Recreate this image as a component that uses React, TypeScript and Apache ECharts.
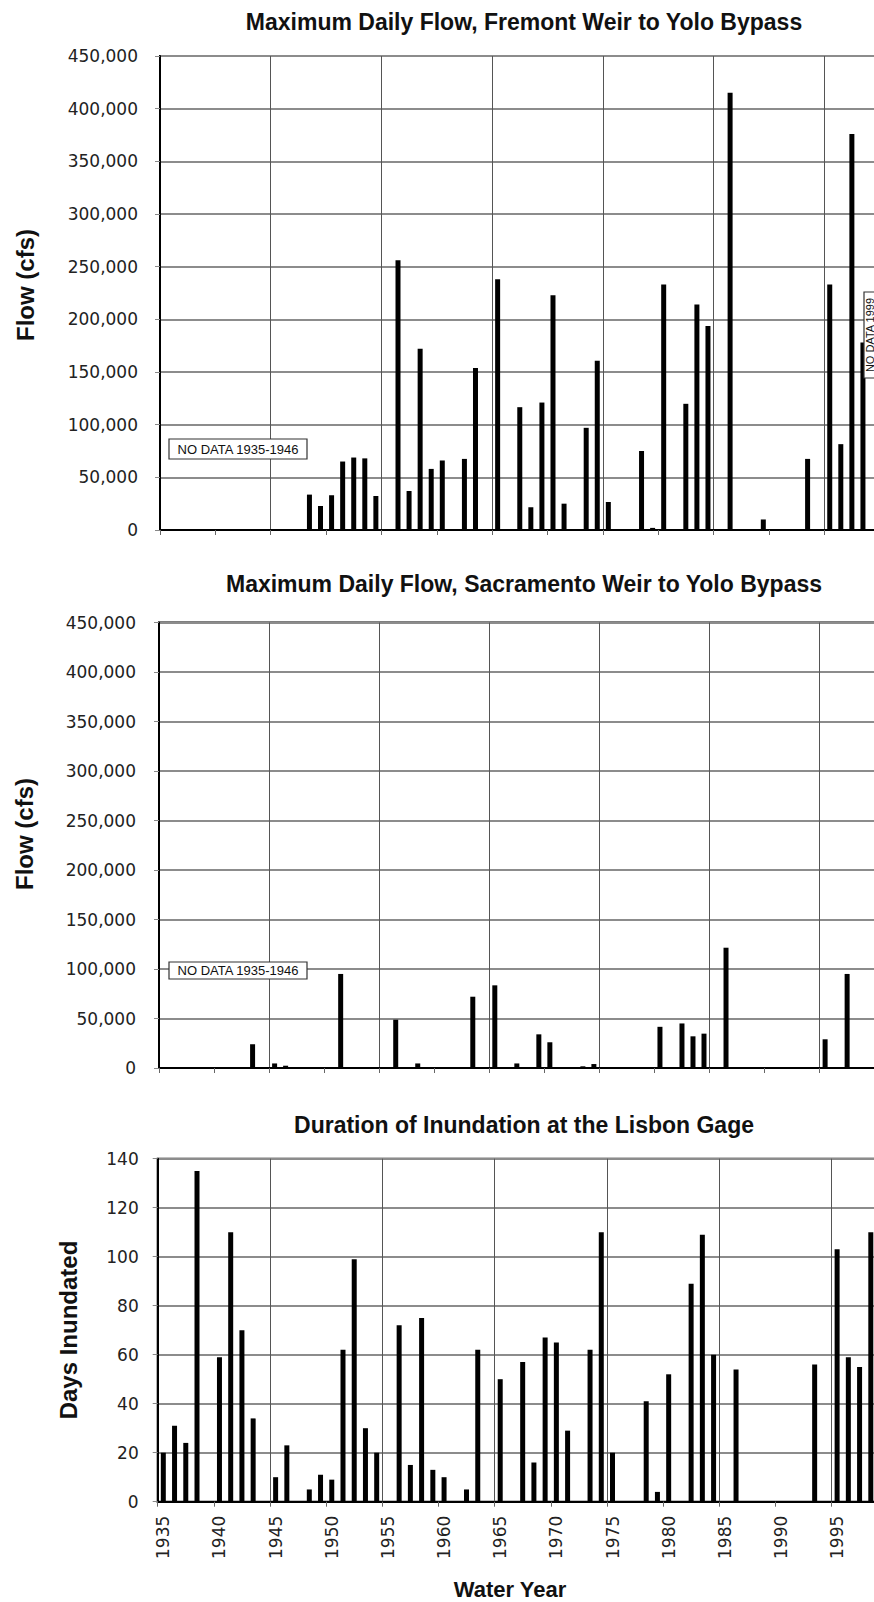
import React, { useEffect, useRef } from "react";
import * as echarts from "echarts";

// Water years (categories)
const years: string[] = [
  "1935","1936","1937","1938","1939","1940","1941","1942","1943","1944",
  "1945","1946","1947","1948","1949","1950","1951","1952","1953","1954",
  "1955","1956","1957","1958","1959","1960","1961","1962","1963","1964",
  "1965","1966","1967","1968","1969","1970","1971","1972","1973","1974",
  "1975","1976","1977","1978","1979","1980","1981","1982","1983","1984",
  "1985","1986","1987","1988","1989","1990","1991","1992","1993","1994",
  "1995","1996","1997","1998","1999","2000",
];

// Maximum daily flow, Fremont Weir to Yolo Bypass (cfs)
const fremontFlow: (number | null)[] = [
  null, null, null, null, null, null, null, null, null, null, // 1935-1944
  null, null, 0, 33600, 22800, 33000, 65000, 68800, 68000, 32300, // 1945-1954
  0, 256000, 37000, 172000, 58000, 66000, 0, 67500, 153700, 0, // 1955-1964
  238000, 0, 116600, 21600, 121000, 222800, 25000, 0, 97000, 160700, // 1965-1974
  26600, 0, 0, 75000, 2000, 233000, 0, 119800, 214000, 193700, // 1975-1984
  0, 415000, 0, 0, 10000, 0, 0, 0, 67500, 0, // 1985-1994
  233000, 81500, 376000, 178000, null, null, // 1995-2000
];

// Maximum daily flow, Sacramento Weir to Yolo Bypass (cfs)
const sacramentoFlow: (number | null)[] = [
  0, 0, 0, 0, 0, 0, 0, 0, 24000, 0, // 1935-1944
  4600, 2300, 0, 0, 0, 0, 95000, 0, 0, 0, // 1945-1954
  0, 48800, 0, 4600, 0, 0, 0, 0, 72000, 0, // 1955-1964
  83500, 0, 4600, 0, 34000, 26000, 0, 0, 1700, 4000, // 1965-1974
  0, 0, 0, 0, 0, 41600, 0, 45000, 32000, 34700, // 1975-1984
  0, 121500, 0, 0, 0, 0, 0, 0, 0, 0, // 1985-1994
  29000, 0, 95000, 0, null, null, // 1995-2000
];

// Duration of inundation at the Lisbon gage (days)
const lisbonDays: (number | null)[] = [
  20, 31, 24, 135, 0, 59, 110, 70, 34, 0, // 1935-1944
  10, 23, 0, 5, 11, 9, 62, 99, 30, 20, // 1945-1954
  0, 72, 15, 75, 13, 10, 0, 5, 62, 0, // 1955-1964
  50, 0, 57, 16, 67, 65, 29, 0, 62, 110, // 1965-1974
  20, 0, 0, 41, 4, 52, 0, 89, 109, 60, // 1975-1984
  0, 54, 0, 0, 0, 0, 0, 0, 56, 0, // 1985-1994
  103, 59, 55, 110, null, null, // 1995-2000
];

const titles = [
  "Maximum Daily Flow, Fremont Weir to Yolo Bypass",
  "Maximum Daily Flow, Sacramento Weir to Yolo Bypass",
  "Duration of Inundation at the Lisbon Gage",
];
const yNames = ["Flow (cfs)", "Flow (cfs)", "Days Inundated"];
const xName = "Water Year";
const noDataEarly = "NO DATA 1935-1946";
const noDataLate = "NO DATA 1999";

const FONT = '"Liberation Sans", Arial, Helvetica, sans-serif';
const TICK_FONT = '"DejaVu Sans", "Liberation Sans", Arial, sans-serif';

export default function App() {
  const ref = useRef<HTMLDivElement>(null);

  useEffect(() => {
    if (!ref.current) return;
    const chart = echarts.init(ref.current, undefined, { renderer: "svg" });

    const grids = [
      { left: 160, top: 56, width: 66 * 11.07, height: 474 },
      { left: 159, top: 622.5, width: 66 * 11.01, height: 445.5 },
      { left: 157.7, top: 1158.7, width: 66 * 11.23, height: 343 },
    ];
    const yMax = [450000, 450000, 140];
    const yInt = [50000, 50000, 20];
    const labelMargin = [22, 23, 19];
    const seriesData = [fremontFlow, sacramentoFlow, lisbonDays];

    const txt = (
      text: string,
      x: number,
      y: number,
      font: string,
      extra: any = {}
    ) => ({
      type: "text",
      x,
      y,
      z: 100,
      ...extra,
      style: {
        text,
        font,
        fill: "#111",
        align: "center",
        verticalAlign: "middle",
        textAlign: "center",
        textVerticalAlign: "middle",
      },
    });

    const option: any = {
      animation: false,
      backgroundColor: "#fff",
      grid: grids.map((g) => ({
        ...g,
        show: true,
        borderColor: "#000",
        borderWidth: 2,
        backgroundColor: "transparent",
        containLabel: false,
      })),
      xAxis: grids.map((_, i) => ({
        type: "category",
        gridIndex: i,
        data: years,
        boundaryGap: true,
        axisLine: { show: true, lineStyle: { color: "#000", width: 2 } },
        axisTick: {
          show: true,
          interval: (idx: number) => idx % 5 === 0,
          length: 5,
          lineStyle: { color: "#666", width: 1 },
        },
        axisLabel: {
          show: i === 2,
          interval: (idx: number) => idx % 5 === 0 && idx < 64,
          rotate: 90,
          margin: 14,
          fontSize: 17,
          fontFamily: TICK_FONT,
          color: "#222",
        },
        splitLine: {
          show: true,
          interval: (idx: number) => idx % 10 === 0 && idx > 0,
          lineStyle: { color: "#555", width: 1 },
        },
      })),
      yAxis: grids.map((_, i) => ({
        type: "value",
        gridIndex: i,
        min: 0,
        max: yMax[i],
        interval: yInt[i],
        axisLine: { show: true, lineStyle: { color: "#000", width: 2 } },
        axisTick: { show: true, length: 5, lineStyle: { color: "#888", width: 1 } },
        axisLabel: {
          formatter: (v: number) => v.toLocaleString("en-US"),
          fontSize: 17,
          fontFamily: TICK_FONT,
          color: "#222",
          margin: labelMargin[i],
        },
        splitLine: { show: true, lineStyle: { color: "#8c8c8c", width: 2 } },
      })),
      series: seriesData.map((d, i) => ({
        type: "bar",
        xAxisIndex: i,
        yAxisIndex: i,
        data: d,
        barWidth: 5,
        itemStyle: { color: "#000" },
        z: 5,
      })),
      graphic: [
        txt(titles[0], 524, 22, `bold 23px ${FONT}`),
        txt(titles[1], 524, 584, `bold 23px ${FONT}`),
        txt(titles[2], 524, 1124.5, `bold 23px ${FONT}`),
        txt(yNames[0], 25, 285, `bold 24px ${FONT}`, { rotation: Math.PI / 2 }),
        txt(yNames[1], 24, 834, `bold 24px ${FONT}`, { rotation: Math.PI / 2 }),
        txt(yNames[2], 68, 1330, `bold 24px ${FONT}`, { rotation: Math.PI / 2 }),
        txt(xName, 510, 1589, `bold 22px ${FONT}`),
        {
          type: "rect",
          z: 99,
          shape: { x: 169, y: 439, width: 138, height: 20 },
          style: { fill: "#fff", stroke: "#333", lineWidth: 1.2 },
        },
        txt(noDataEarly, 238, 449.5, `13px ${FONT}`),
        {
          type: "rect",
          z: 99,
          shape: { x: 169, y: 962, width: 138, height: 17 },
          style: { fill: "#fff", stroke: "#333", lineWidth: 1.2 },
        },
        txt(noDataEarly, 238, 970.5, `13px ${FONT}`),
        {
          type: "rect",
          z: 99,
          shape: { x: 864, y: 292, width: 20, height: 86 },
          style: { fill: "#fff", stroke: "#333", lineWidth: 1.2 },
        },
        txt(noDataLate, 869.5, 335, `11px ${FONT}`, { rotation: Math.PI / 2 }),
      ],
    };

    chart.setOption(option);
    return () => chart.dispose();
  }, []);

  return (
    <div
      style={{
        position: "absolute",
        left: 0,
        top: 0,
        width: 874,
        height: 1602,
        overflow: "hidden",
        background: "#fff",
      }}
    >
      <div ref={ref} style={{ width: 940, height: 1602 }} />
    </div>
  );
}
